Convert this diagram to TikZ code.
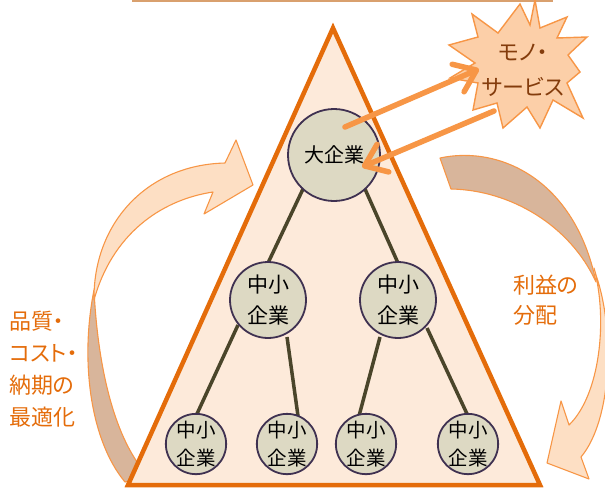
\documentclass[tikz,border=0pt]{standalone}
\usepackage{fontspec}
\setmainfont[RawFeature=+palt]{Noto Sans CJK JP}
\usetikzlibrary{arrows.meta}
\definecolor{triedge}{HTML}{E46C0A}
\definecolor{trifill}{HTML}{FDEADA}
\definecolor{circfill}{HTML}{DDD9C3}
\definecolor{circedge}{HTML}{3F3151}
\definecolor{linkcol}{HTML}{4A452A}
\definecolor{arrcol}{HTML}{F79646}
\definecolor{frontcol}{HTML}{FDDFC4}
\definecolor{backcol}{HTML}{D8B59B}
\definecolor{starfill}{HTML}{FCCFA8}
\definecolor{startext}{HTML}{843C0C}
\definecolor{labcol}{HTML}{E46C0A}
\definecolor{topline}{HTML}{D9A06E}
\tikzset{
  firm/.style={circle,draw=circedge,line width=1.8pt,fill=circfill,inner sep=0pt,align=center,text=black},
  bigfirm/.style={firm,minimum size=92pt,font=\fontsize{20}{26}\selectfont},
  midfirm/.style={firm,minimum size=76pt,font=\fontsize{21}{31}\selectfont},
  smallfirm/.style={firm,minimum size=58pt,font=\fontsize{19.5}{28}\selectfont},
  link/.style={draw=linkcol,line width=3.5pt},
  front/.style={fill=frontcol,draw=arrcol,line width=1.1pt,line join=round},
  back/.style={fill=backcol,draw=arrcol,line width=1.1pt,line join=round},
  flow/.style={draw=arrcol,line width=5.5pt,line cap=round,-{Straight Barb[length=20pt,width=30pt,line cap=round,line join=round]}},
  lab/.style={text=labcol,align=left,font=\fontsize{22}{32}\selectfont,inner sep=0pt}
}
\begin{document}
\begin{tikzpicture}[x=1pt,y=-1pt]
\useasboundingbox (0,0) rectangle (605,488);
% top line
\draw[topline,line width=1.5pt] (132,1) -- (553,1);
% left curved arrow
\path[back] (94,290) .. controls (80,360) and (90,440) .. (125,482) -- (148,476) .. controls (115,440) and (98,370) .. (94,290) -- cycle;
\path[front] (225,163) -- (236,140) -- (253,185) -- (204,214) -- (213,192) .. controls (160,200) and (112,235) .. (94,300) .. controls (93,225) and (145,165) .. (225,163) -- cycle;
% right curved arrow
\path[back] (440,158) .. controls (500,145) and (575,180) .. (596,282) .. controls (570,225) and (510,190) .. (451,189) -- cycle;
\path[front] (594,268) .. controls (608,320) and (600,395) .. (569,425) -- (561,401) -- (547,463) -- (589,479) -- (581,457) .. controls (612,420) and (615,330) .. (596,275) -- cycle;
% triangle
\draw[triedge,fill=trifill,line width=4.5pt] (333,28) -- (540,485) -- (128,485) -- cycle;
% link end points
\coordinate (bigl) at (303,189);
\coordinate (bigr) at (365,189);
\coordinate (mlt) at (268,263);
\coordinate (mrt) at (398,263);
\coordinate (mll) at (238,325);
\coordinate (mlr) at (287,337);
\coordinate (mrl) at (380,337);
\coordinate (mrr) at (427,328);
\coordinate (b1t) at (196,416);
\coordinate (b2t) at (298,416);
\coordinate (b3t) at (359,416);
\coordinate (b4t) at (468,416);
% links
\draw[link] (bigl) -- (mlt);
\draw[link] (bigr) -- (mrt);
\draw[link] (mll) -- (b1t);
\draw[link] (mlr) -- (b2t);
\draw[link] (mrl) -- (b3t);
\draw[link] (mrr) -- (b4t);
% firms
\node[bigfirm] (nbig) at (334,155) {大企業};
\node[midfirm] (nml) at (268,300) {中小\\企業};
\node[midfirm] (nmr) at (398,300) {中小\\企業};
\node[smallfirm] (nb1) at (196,444) {中小\\企業};
\node[smallfirm] (nb2) at (287,444) {中小\\企業};
\node[smallfirm] (nb3) at (366,444) {中小\\企業};
\node[smallfirm] (nb4) at (468,444) {中小\\企業};
% starburst
\path[fill=starfill,draw=arrcol,line width=1.4pt,line join=miter]
 (472,14) -- (498,33) -- (520,4) -- (530,25) -- (535,0) -- (540,28) -- (567,17) -- (557,38)
 -- (587,37) -- (568,55) -- (580,72) -- (567,83) -- (583,118) -- (553,100) -- (540,128)
 -- (527,107) -- (503,128) -- (497,103) -- (473,110) -- (478,83) -- (450,78) -- (475,63)
 -- (449,45) -- (478,37) -- cycle;
\node[text=startext,align=center,font=\fontsize{22}{35}\selectfont,inner sep=0pt] (star) at (523,70) {モノ・\\サービス};
% exchange arrows
\coordinate (s1) at (479,69);
\coordinate (s2) at (494,111);
\coordinate (b0) at (345,127);
\coordinate (bt) at (362,167);
\draw[flow] (b0) -- (s1);
\draw[flow] (s2) -- (bt);
% labels
\node[lab,anchor=north west] (ll) at (9,311) {品質・\\コスト・\\納期の\\最適化};
\node[lab,anchor=north west,font=\fontsize{22}{30}\selectfont] (rl) at (513,275) {利益の\\分配};
\end{tikzpicture}
\end{document}
